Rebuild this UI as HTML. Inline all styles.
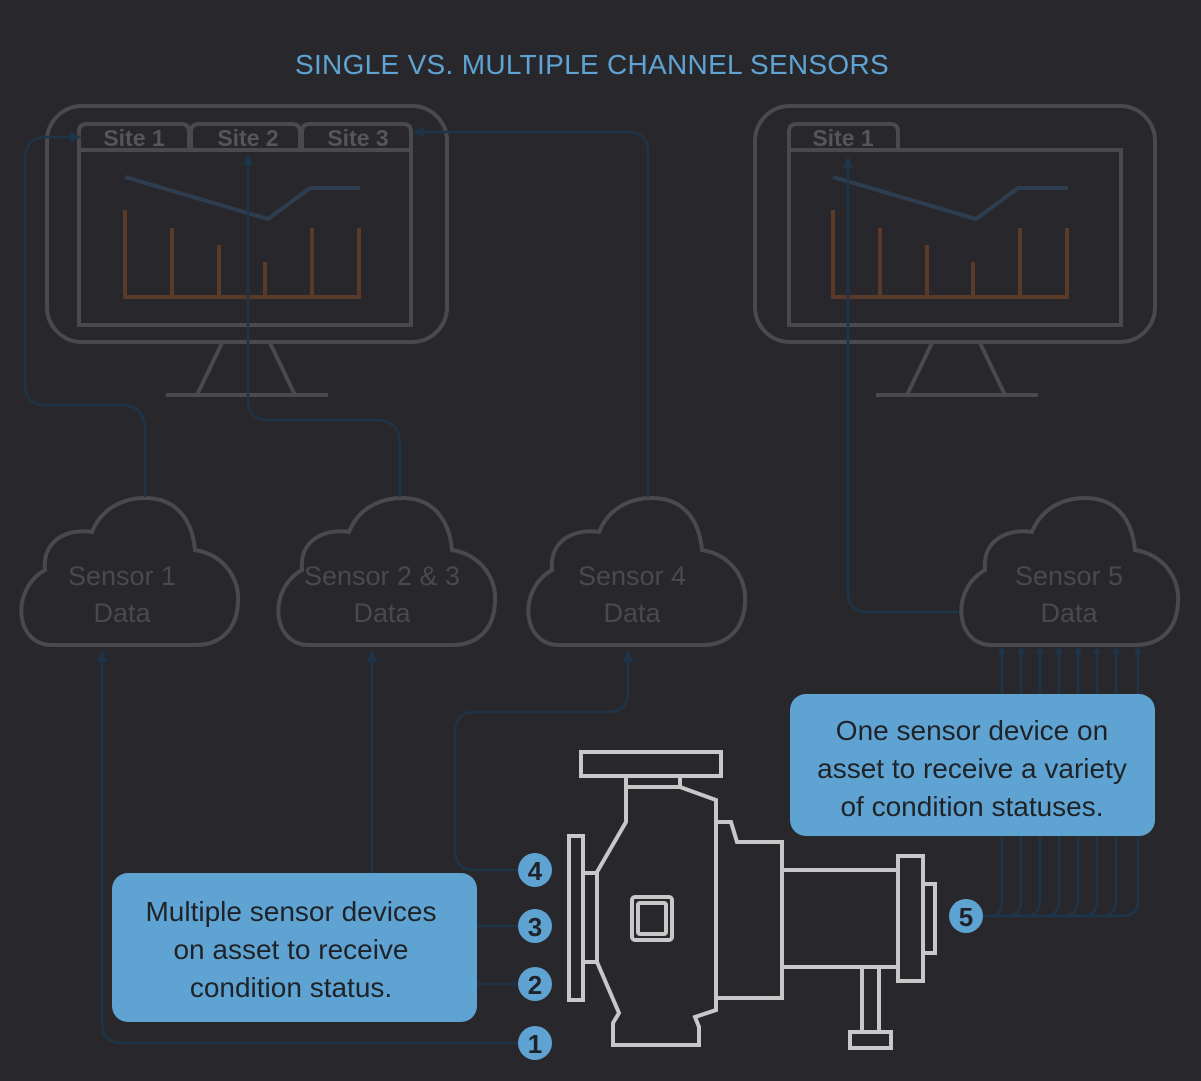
<!DOCTYPE html>
<html><head><meta charset="utf-8"><style>
html,body{margin:0;padding:0;background:#28282c;}
svg{display:block}
</style></head><body>
<svg width="1201" height="1081" viewBox="0 0 1201 1081" xmlns="http://www.w3.org/2000/svg" font-family="Liberation Sans, sans-serif">
<rect width="1201" height="1081" fill="#28282c"/>
<defs>
<marker id="ar" markerWidth="8" markerHeight="8" refX="6" refY="4" orient="auto" markerUnits="userSpaceOnUse"><path d="M0,0 L8,4 L0,8 Z" fill="#1e3448"/></marker>
<marker id="ab" markerWidth="12" markerHeight="12" refX="10" refY="6" orient="auto" markerUnits="userSpaceOnUse"><path d="M0,1 L12,6 L0,11 Z" fill="#1e3448"/></marker>
<path id="cloud" d="M52,645 C15,645 10,590 45,570 C42,540 68,528 92,532 C102,507 125,498 145,498 C175,498 192,518 195,550 C225,555 240,580 238,602 C237,630 220,645 195,645 Z"/>
</defs>
<text x="592" y="74" text-anchor="middle" font-size="28" fill="#5fa3d3" letter-spacing="0.3">SINGLE VS. MULTIPLE CHANNEL SENSORS</text>

<g fill="none" stroke="#4a4a4e" stroke-width="4">
<rect x="47" y="106" width="400" height="236" rx="35"/>
<rect x="79" y="150" width="332" height="175"/>
<path d="M79,150 V132 Q79,124 87,124 H181 Q189,124 189,132 V150 M191,150 V132 Q191,124 199,124 H292 Q300,124 300,132 V150 M302,150 V132 Q302,124 310,124 H403 Q411,124 411,132 V150"/>
<path d="M222,343 L197,395 M270,343 L295,395 M166,395 H328"/>
<rect x="755" y="106" width="400" height="236" rx="35"/>
<rect x="789" y="150" width="332" height="175"/>
<path d="M789,150 V132 Q789,124 797,124 H890 Q898,124 898,132 V150"/>
<path d="M932,343 L907,395 M980,343 L1005,395 M876,395 H1038"/>
</g>
<g font-size="23" fill="#55555a" text-anchor="middle" font-weight="bold">
<text x="134" y="146">Site 1</text><text x="248" y="146">Site 2</text><text x="358" y="146">Site 3</text>
<text x="843" y="146">Site 1</text>
</g>
<g fill="none" stroke="#2e3e50" stroke-width="4">
<path d="M125,177 L268,219 L310,188 L360,188"/>
<path d="M833,177 L976,219 L1018,188 L1068,188"/>
</g>
<g fill="none" stroke="#5a3a28" stroke-width="4">
<path d="M123,297 H361 M125,297 V210 M172,297 V228 M219,297 V245 M265,297 V262 M312,297 V228 M359,297 V228"/>
<path d="M831,297 H1069 M833,297 V210 M880,297 V228 M927,297 V245 M973,297 V262 M1020,297 V228 M1067,297 V228"/>
</g>

<g fill="none" stroke="#4a4a4e" stroke-width="4">
<use href="#cloud"/>
<use href="#cloud" transform="translate(257,0)"/>
<use href="#cloud" transform="translate(507,0)"/>
<use href="#cloud" transform="translate(940,0)"/>
</g>
<g font-size="27" fill="#4a4a4e" text-anchor="middle">
<text x="122" y="585">Sensor 1</text><text x="122" y="622">Data</text>
<text x="382" y="585">Sensor 2 &amp; 3</text><text x="382" y="622">Data</text>
<text x="632" y="585">Sensor 4</text><text x="632" y="622">Data</text>
<text x="1069" y="585">Sensor 5</text><text x="1069" y="622">Data</text>
</g>

<g fill="none" stroke="#1e3448" stroke-width="2.5">
<path d="M145,497 V430 Q145,405 120,405 H45 Q25,405 25,385 V160 Q25,137 48,137 H80" marker-end="url(#ab)"/>
<path d="M400,497 V445 Q400,420 375,420 H268 Q248,420 248,400 V155" marker-end="url(#ab)"/>
<path d="M648,497 V152 Q648,132 628,132 H414" marker-end="url(#ab)"/>
<path d="M958,612 H868 Q848,612 848,592 V158" marker-end="url(#ab)"/>
<path d="M518,1043 H122 Q102,1043 102,1023 V652" marker-end="url(#ab)"/>
<path d="M372,873 V652" marker-end="url(#ab)"/>
<path d="M518,926 H477 M518,984 H477"/>
<path d="M518,870 H475 Q455,870 455,850 V732 Q455,712 475,712 H608 Q628,712 628,692 V652" marker-end="url(#ab)"/>
<path d="M983,916 H990 Q1002,916 1002,900 V648" marker-end="url(#ar)"/>
<path d="M983,916 H1006 Q1021,916 1021,900 V648" marker-end="url(#ar)"/>
<path d="M983,916 H1025 Q1040,916 1040,900 V648" marker-end="url(#ar)"/>
<path d="M983,916 H1044 Q1059,916 1059,900 V648" marker-end="url(#ar)"/>
<path d="M983,916 H1063 Q1078,916 1078,900 V648" marker-end="url(#ar)"/>
<path d="M983,916 H1082 Q1097,916 1097,900 V648" marker-end="url(#ar)"/>
<path d="M983,916 H1101 Q1116,916 1116,900 V648" marker-end="url(#ar)"/>
<path d="M983,916 H1120 Q1138,916 1138,900 V648" marker-end="url(#ar)"/>
</g>

<rect x="112" y="873" width="365" height="149" rx="16" fill="#5fa3d3"/>
<rect x="790" y="694" width="365" height="142" rx="16" fill="#5fa3d3"/>
<g font-size="28" fill="#1f2328" text-anchor="middle">
<text x="291" y="921">Multiple sensor devices</text>
<text x="291" y="959">on asset to receive</text>
<text x="291" y="997">condition status.</text>
<text x="972" y="740">One sensor device on</text>
<text x="972" y="778">asset to receive a variety</text>
<text x="972" y="816">of condition statuses.</text>
</g>

<g fill="none" stroke="#c8c8c8" stroke-width="4" stroke-linejoin="miter">
<rect x="581" y="752" width="140" height="24"/>
<rect x="626" y="776" width="54" height="11"/>
<path d="M626,787 V822 L597,872 V962 L619,1013 L613,1023 V1045 H699 V1027 L695,1017 L716,1010 V998 H782 V870 M626,787 H680 L716,800 V822 H731 L737,842 H782 V870 M716,822 V998"/>
<rect x="569" y="836" width="14" height="164"/>
<rect x="583" y="873" width="14" height="89"/>
<rect x="632" y="897" width="40" height="43" rx="3"/>
<rect x="638" y="903" width="28" height="31" rx="2"/>
<rect x="782" y="870" width="116" height="97"/>
<rect x="898" y="856" width="25" height="125"/>
<rect x="923" y="884" width="12" height="69"/>
<rect x="862" y="967" width="17" height="65"/>
<rect x="850" y="1032" width="41" height="16"/>
</g>

<g font-size="26" font-weight="bold" fill="#1f2328" text-anchor="middle">
<circle cx="535" cy="870" r="17" fill="#5fa3d3"/><text x="535" y="880">4</text>
<circle cx="535" cy="926" r="17" fill="#5fa3d3"/><text x="535" y="936">3</text>
<circle cx="535" cy="984" r="17" fill="#5fa3d3"/><text x="535" y="994">2</text>
<circle cx="535" cy="1043" r="17" fill="#5fa3d3"/><text x="535" y="1053">1</text>
<circle cx="966" cy="916" r="17" fill="#5fa3d3"/><text x="966" y="926">5</text>
</g>
</svg>
</body></html>
